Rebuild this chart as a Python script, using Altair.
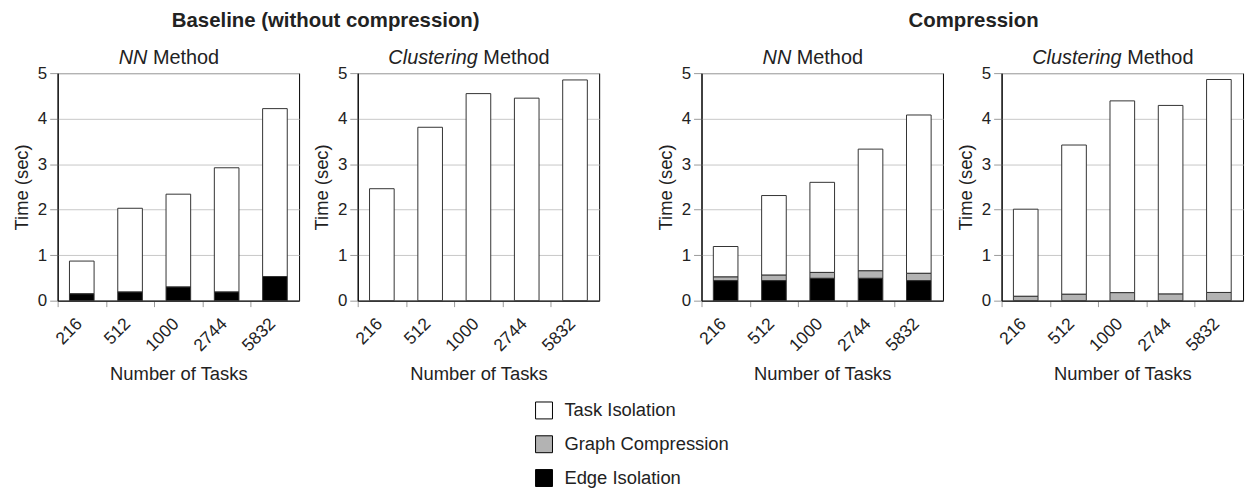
import altair as alt
import pandas as pd

tasks = ["216", "512", "1000", "2744", "5832"]
components = ["Task Isolation", "Graph Compression", "Edge Isolation"]
comp_colors = ["#ffffff", "#b3b3b3", "#000000"]

# Baseline (without compression) - NN method
base_nn_edge = [0.15, 0.19, 0.30, 0.19, 0.53]
base_nn_graph = [0.0, 0.0, 0.0, 0.0, 0.0]
base_nn_task = [0.72, 1.84, 2.04, 2.73, 3.69]
# Baseline - Clustering method
base_cl_edge = [0.0, 0.0, 0.0, 0.0, 0.0]
base_cl_graph = [0.0, 0.0, 0.0, 0.0, 0.0]
base_cl_task = [2.46, 3.81, 4.55, 4.45, 4.85]
# Compression - NN method
comp_nn_edge = [0.44, 0.44, 0.49, 0.49, 0.44]
comp_nn_graph = [0.08, 0.12, 0.13, 0.165, 0.16]
comp_nn_task = [0.67, 1.75, 1.98, 2.675, 3.48]
# Compression - Clustering method
comp_cl_edge = [0.0, 0.0, 0.0, 0.0, 0.0]
comp_cl_graph = [0.095, 0.14, 0.175, 0.145, 0.18]
comp_cl_task = [1.915, 3.28, 4.215, 4.145, 4.68]

series = {
    "base_nn": (base_nn_task, base_nn_graph, base_nn_edge),
    "base_cl": (base_cl_task, base_cl_graph, base_cl_edge),
    "comp_nn": (comp_nn_task, comp_nn_graph, comp_nn_edge),
    "comp_cl": (comp_cl_task, comp_cl_graph, comp_cl_edge),
}
rows = []
for key, (tk, gr, ed) in series.items():
    for i, t in enumerate(tasks):
        for comp, vals, ordv in zip(components, (tk, gr, ed), (2, 1, 0)):
            if vals[i] > 0:
                rows.append({"panel": key, "tasks": t, "component": comp,
                             "value": vals[i], "ord": ordv})
df = pd.DataFrame(rows)

W, H = 243, 229
STEP = W / len(tasks)
FONT = "Liberation Sans"
TXT = "#222222"
TFS = 20
EM = {"N": .722, "M": .833, "e": .556, "t": .278, "h": .556, "o": .556, "d": .556,
      "C": .722, "l": .222, "u": .556, "s": .5, "r": .333, "i": .222, "n": .556, "g": .556}


def text_w(s):
    return sum(EM.get(c, .55) for c in s) * TFS


def panel(key, italic_word):
    d = df[df.panel == key]
    bars = alt.Chart(d).mark_bar(stroke="#333333", strokeWidth=1).encode(
        x=alt.X("tasks:N", sort=tasks, title="Number of Tasks",
                scale=alt.Scale(paddingInner=0.49, paddingOuter=0.245),
                axis=alt.Axis(labelAngle=-45, tickOffset=-STEP / 2,
                              labelOffset=STEP / 2 - 9,
                              tickSize=6, tickColor="#999999", domainColor="#000000",
                              labelFontSize=17.5, titleFontSize=18.5, labelPadding=8,
                              titlePadding=10)),
        y=alt.Y("value:Q", stack="zero", title="Time (sec)",
                scale=alt.Scale(domain=[0, 5], nice=False),
                axis=alt.Axis(values=[0, 1, 2, 3, 4, 5], tickSize=8, tickColor="#999999",
                              gridColor="#c8c8c8", domainColor="#000000",
                              labelFontSize=17, titleFontSize=18.5, labelPadding=3,
                              titlePadding=6)),
        color=alt.Color("component:N",
                        scale=alt.Scale(domain=components, range=comp_colors),
                        legend=alt.Legend(title=None, orient="none", legendX=480,
                                          legendY=330, symbolType="square", symbolSize=290,
                                          symbolStrokeColor="#000000", symbolStrokeWidth=1,
                                          labelFontSize=18.5, labelColor=TXT, labelLimit=0,
                                          rowPadding=11, labelOffset=11)),
        order=alt.Order("ord:Q", sort="ascending"),
    )
    center = 112
    wi = text_w(italic_word)
    wm = text_w("Method")
    sp = 0.278 * TFS
    start = center - (wi + sp + wm) / 2
    t1 = alt.Chart(pd.DataFrame({"t": [italic_word]})).mark_text(
        align="left", baseline="alphabetic", fontSize=TFS, fontStyle="italic",
        font=FONT, color=TXT).encode(text="t:N", x=alt.value(start), y=alt.value(-9))
    t2 = alt.Chart(pd.DataFrame({"t": ["Method"]})).mark_text(
        align="left", baseline="alphabetic", fontSize=TFS, font=FONT,
        color=TXT).encode(text="t:N", x=alt.value(start + wi + sp), y=alt.value(-9))
    return alt.layer(bars, t1, t2).properties(width=W, height=H)


left = alt.hconcat(panel("base_nn", "NN"), panel("base_cl", "Clustering"), spacing=12).properties(
    title=alt.TitleParams("Baseline (without compression)", fontSize=20.5, fontWeight="bold",
                          anchor="middle", font=FONT, color=TXT, offset=16, dx=20))
right = alt.hconcat(panel("comp_nn", "NN"), panel("comp_cl", "Clustering"), spacing=12).properties(
    title=alt.TitleParams("Compression", fontSize=20.5, fontWeight="bold",
                          anchor="middle", font=FONT, color=TXT, offset=16, dx=24))

chart = alt.hconcat(left, right, spacing=56).properties(
    padding={"left": 12, "top": 10, "right": 5, "bottom": 5}
).configure(font=FONT).configure_axis(
    labelColor=TXT, titleColor=TXT, titleFontWeight="normal", labelFont=FONT, titleFont=FONT
).configure_view(stroke="#000000", strokeWidth=1)

chart.save("out.html", embed_options={"renderer": "svg", "actions": False})
